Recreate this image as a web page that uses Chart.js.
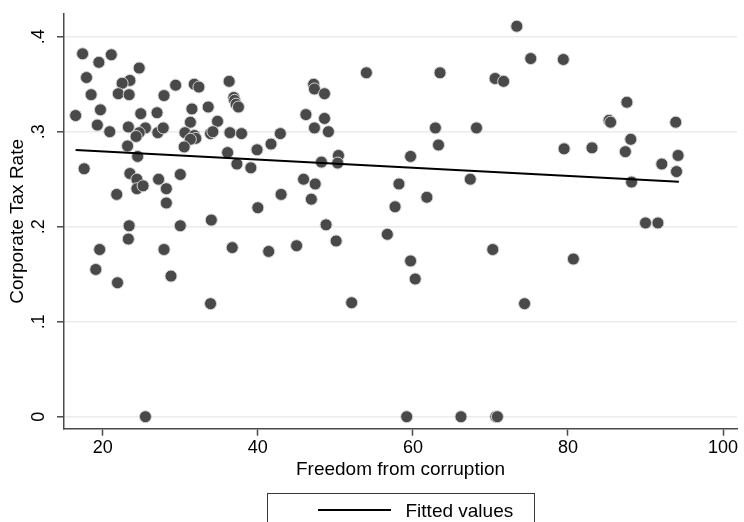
<!DOCTYPE html>
<html>
<head>
<meta charset="utf-8">
<script src="https://cdn.jsdelivr.net/npm/chart.js@4/dist/chart.umd.min.js"></script>
<style>
  html, body { margin: 0; padding: 0; background: #fff; }
  #wrap { width: 744px; height: 522px; }
</style>
</head>
<body>
<div id="wrap"><canvas id="c" width="744" height="522"></canvas></div>
<script>
// Freedom from corruption index per country
const corruption = [
  17.4, 21.1, 19.5, 24.7, 17.9, 23.5, 22.5, 29.4, 31.8, 32.4,
  36.3, 18.5, 22.0, 23.4, 27.9, 36.9, 37.0, 37.2, 37.5, 16.5,
  19.7, 24.9, 27.0, 31.5, 33.6, 34.8, 31.3, 19.3, 20.9, 23.3,
  25.5, 24.7, 24.3, 23.2, 27.1, 27.8, 30.6, 31.8, 32.0, 31.3,
  33.9, 34.2, 36.4, 37.9, 39.9, 30.5, 36.1, 24.5, 17.6, 37.3,
  39.1, 23.5, 24.4, 24.4, 25.2, 27.2, 30.0, 28.2, 21.8, 28.2,
  40.0, 23.4, 30.0, 34.0, 23.3, 19.6, 27.9, 36.7, 19.1, 21.9,
  28.8, 33.9, 25.5,
  54.0, 63.5, 70.6, 47.2, 47.3, 48.6, 46.2, 48.6, 47.3, 49.1,
  42.9, 41.7, 50.4, 50.3, 48.2, 62.9, 68.2, 63.3, 59.7, 45.9,
  47.4, 58.2, 67.4, 43.0, 46.9, 61.8, 57.7, 48.8, 56.7, 41.4,
  45.0, 50.1, 70.3, 59.7, 60.3, 52.1, 59.2, 66.2, 70.7,
  73.4, 75.2, 79.4, 71.7, 87.6, 85.3, 85.5, 93.9, 79.5, 83.1,
  88.1, 87.4, 94.2, 92.1, 94.0, 88.2, 90.0, 91.6, 80.7, 74.4,
  70.9
];

// Corporate tax rate per country (same order)
const taxRate = [
  0.382, 0.381, 0.373, 0.367, 0.357, 0.354, 0.351, 0.349, 0.350, 0.347,
  0.353, 0.339, 0.340, 0.339, 0.338, 0.336, 0.333, 0.329, 0.326, 0.317,
  0.323, 0.319, 0.320, 0.324, 0.326, 0.311, 0.310, 0.307, 0.300, 0.305,
  0.304, 0.299, 0.295, 0.285, 0.299, 0.304, 0.299, 0.296, 0.293, 0.292,
  0.298, 0.300, 0.299, 0.298, 0.281, 0.284, 0.278, 0.274, 0.261, 0.266,
  0.262, 0.256, 0.250, 0.240, 0.243, 0.250, 0.255, 0.240, 0.234, 0.225,
  0.220, 0.201, 0.201, 0.207, 0.187, 0.176, 0.176, 0.178, 0.155, 0.141,
  0.148, 0.119, 0.000,
  0.362, 0.362, 0.356, 0.350, 0.345, 0.340, 0.318, 0.314, 0.304, 0.300,
  0.298, 0.287, 0.275, 0.267, 0.268, 0.304, 0.304, 0.286, 0.274, 0.250,
  0.245, 0.245, 0.250, 0.234, 0.229, 0.231, 0.221, 0.202, 0.192, 0.174,
  0.180, 0.185, 0.176, 0.164, 0.145, 0.120, 0.000, 0.000, 0.000,
  0.411, 0.377, 0.376, 0.353, 0.331, 0.312, 0.310, 0.310, 0.282, 0.283,
  0.292, 0.279, 0.275, 0.266, 0.258, 0.247, 0.204, 0.204, 0.166, 0.119,
  0.000
];

// Linear fit endpoints (fitted values)
const fitX = [16.5, 94.3];
const fitY = [0.2807, 0.2474];

// Axis ticks
const xTickValues = [20, 40, 60, 80, 100];
const xTickLabels = ['20', '40', '60', '80', '100'];
const yTickValues = [0, 0.1, 0.2, 0.3, 0.4];
const yTickLabels = ['0', '.1', '.2', '.3', '.4'];

const FONT = "'Liberation Sans', Arial, Helvetica, sans-serif";
const AXIS_COLOR = '#4a4a4a';

const scatterPoints = corruption.map((x, i) => ({ x: x, y: taxRate[i] }));
const fitPoints = fitX.map((x, i) => ({ x: x, y: fitY[i] }));

// Boxed legend under the plot, showing only the fitted line
const boxedLegend = {
  id: 'boxedLegend',
  afterDraw(chart) {
    const ctx = chart.ctx;
    const area = chart.chartArea;
    const ds = chart.data.datasets.find(d => d.showInLegend);
    if (!ds) return;
    const boxW = 267;
    const cx = (area.left + area.right) / 2;
    const left = cx - boxW / 2;
    const top = area.bottom + 63.8;
    ctx.save();
    ctx.strokeStyle = '#3a3a3a';
    ctx.lineWidth = 1;
    ctx.strokeRect(Math.round(left) + 0.5, Math.round(top) + 0.5, boxW, 60);
    // line sample
    const ly = top + 17.5;
    ctx.strokeStyle = ds.borderColor;
    ctx.lineWidth = ds.borderWidth;
    ctx.beginPath();
    ctx.moveTo(left + 51, ly);
    ctx.lineTo(left + 124, ly);
    ctx.stroke();
    // label
    ctx.fillStyle = '#000';
    ctx.font = '19px ' + FONT;
    ctx.textAlign = 'left';
    ctx.textBaseline = 'alphabetic';
    ctx.fillText(ds.label, left + 138.5, top + 24);
    ctx.restore();
  }
};

new Chart(document.getElementById('c'), {
  data: {
    datasets: [
      {
        type: 'line',
        label: 'Fitted values',
        showInLegend: true,
        data: fitPoints,
        borderColor: '#000000',
        borderWidth: 2,
        pointRadius: 0,
        fill: false,
        tension: 0,
        order: 0
      },
      {
        type: 'scatter',
        label: 'Corporate Tax Rate',
        data: scatterPoints,
        backgroundColor: '#494949',
        borderColor: '#d4d4d4',
        borderWidth: 1,
        pointRadius: 6,
        pointHoverRadius: 6,
        order: 1
      }
    ]
  },
  options: {
    responsive: false,
    animation: false,
    events: [],
    layout: { padding: { left: 0, right: 3, top: 14, bottom: 40.3 } },
    plugins: {
      legend: { display: false },
      tooltip: { enabled: false }
    },
    scales: {
      x: {
        type: 'linear',
        position: 'bottom',
        min: 15,
        max: 101.8,
        afterFit(scale) {
          scale.height = 53;
          scale.paddingLeft = 0;
          scale.paddingRight = 0;
        },
        afterBuildTicks(scale) { scale.ticks = xTickValues.map(v => ({ value: v })); },
        ticks: {
          color: '#000',
          font: { family: FONT, size: 18 },
          padding: 2,
          maxRotation: 0,
          minRotation: 0,
          callback(value) {
            const i = xTickValues.indexOf(value);
            return i >= 0 ? xTickLabels[i] : '';
          }
        },
        grid: {
          drawOnChartArea: false,
          drawTicks: true,
          tickLength: 7,
          tickColor: AXIS_COLOR,
          tickWidth: 1.5
        },
        border: { display: true, color: AXIS_COLOR, width: 1.5 },
        title: {
          display: true,
          text: 'Freedom from corruption',
          color: '#000',
          font: { family: FONT, size: 19 },
          padding: { top: 0, bottom: 0.3 }
        }
      },
      y: {
        type: 'linear',
        position: 'left',
        min: -0.0126,
        max: 0.4239,
        afterFit(scale) {
          scale.width = 64;
          scale.paddingTop = 0;
          scale.paddingBottom = 0;
        },
        afterBuildTicks(scale) { scale.ticks = yTickValues.map(v => ({ value: v })); },
        ticks: {
          color: '#000',
          font: { family: FONT, size: 18 },
          minRotation: 90,
          maxRotation: 90,
          crossAlign: 'center',
          padding: 10,
          callback(value) {
            const i = yTickValues.findIndex(v => Math.abs(v - value) < 1e-9);
            return i >= 0 ? yTickLabels[i] : '';
          }
        },
        grid: {
          drawOnChartArea: true,
          drawTicks: true,
          tickLength: 7,
          color: '#ebebeb',
          lineWidth: 1.6,
          tickColor: AXIS_COLOR,
          tickWidth: 1.5
        },
        border: { display: true, color: AXIS_COLOR, width: 1.5 },
        title: {
          display: true,
          text: 'Corporate Tax Rate',
          color: '#000',
          font: { family: FONT, size: 19 },
          padding: { top: 6.6, bottom: 0 }
        }
      }
    }
  },
  plugins: [boxedLegend]
});
</script>
</body>
</html>
